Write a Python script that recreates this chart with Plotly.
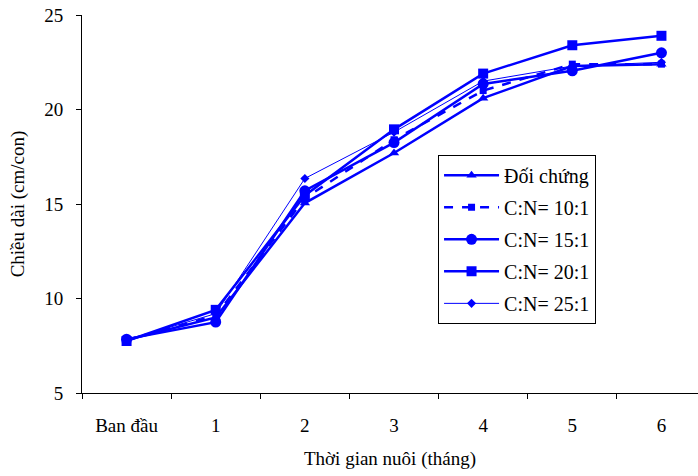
import plotly.graph_objects as go

categories = ["Ban đầu", "1", "2", "3", "4", "5", "6"]
doi_chung = [7.8, 9.0, 15.05, 17.7, 20.6, 22.3, 22.4]
cn_10 = [7.8, 9.1, 15.3, 18.4, 21.0, 22.4, 22.4]
cn_15 = [7.85, 8.75, 15.7, 18.25, 21.35, 22.05, 23.0]
cn_20 = [7.75, 9.4, 15.45, 18.95, 21.9, 23.4, 23.9]
cn_25 = [7.8, 9.2, 16.35, 18.8, 21.5, 22.3, 22.5]

blue = "#0000FF"
series = [
    ("Đối chứng", doi_chung, dict(width=2.5, dash="solid"), dict(symbol="triangle-up", size=9)),
    ("C:N= 10:1", cn_10, dict(width=2.5, dash="dash"), dict(symbol="square", size=7)),
    ("C:N= 15:1", cn_15, dict(width=2.5, dash="solid"), dict(symbol="circle", size=11)),
    ("C:N= 20:1", cn_20, dict(width=2.5, dash="solid"), dict(symbol="square", size=10)),
    ("C:N= 25:1", cn_25, dict(width=1, dash="solid"), dict(symbol="diamond", size=7)),
]

fig = go.Figure()
for i, (name, vals, line, marker) in enumerate(series):
    fig.add_trace(go.Scatter(
        x=categories, y=vals, name=name, mode="lines+markers",
        legendgroup=f"g{i}",
        line=dict(color=blue, **line),
        marker=dict(color=blue, **marker),
    ))

serif = "Liberation Serif, Times New Roman, serif"
f19 = dict(family=serif, size=19, color="black")
fig.update_layout(
    width=698, height=476,
    margin=dict(l=82, r=0, t=15, b=83),
    paper_bgcolor="white", plot_bgcolor="white",
    font=f19,
    showlegend=True,
    legend=dict(
        x=0.578, y=0.63, xanchor="left", yanchor="top",
        bordercolor="black", borderwidth=1, bgcolor="white",
        font=dict(family=serif, size=20, color="black"),
        tracegroupgap=3, itemwidth=55,
    ),
)
fig.update_xaxes(
    type="category", range=[-0.5, 6.41],
    showline=True, linecolor="black", linewidth=1,
    ticks="outside", tickson="boundaries", ticklen=5, tickcolor="black",
    tickfont=f19,
    ticklabelstandoff=15,
    showgrid=False, zeroline=False,
    title=dict(text="Thời gian nuôi (tháng)", standoff=16, font=f19),
)
fig.update_yaxes(
    range=[5, 25], dtick=5,
    showline=True, linecolor="black", linewidth=1,
    ticks="outside", ticklen=5, tickcolor="black",
    tickfont=f19,
    ticklabelstandoff=9,
    showgrid=False, zeroline=False,
    title=dict(text="Chiều dài (cm/con)", standoff=14, font=f19),
)

fig.write_html("out.html")
